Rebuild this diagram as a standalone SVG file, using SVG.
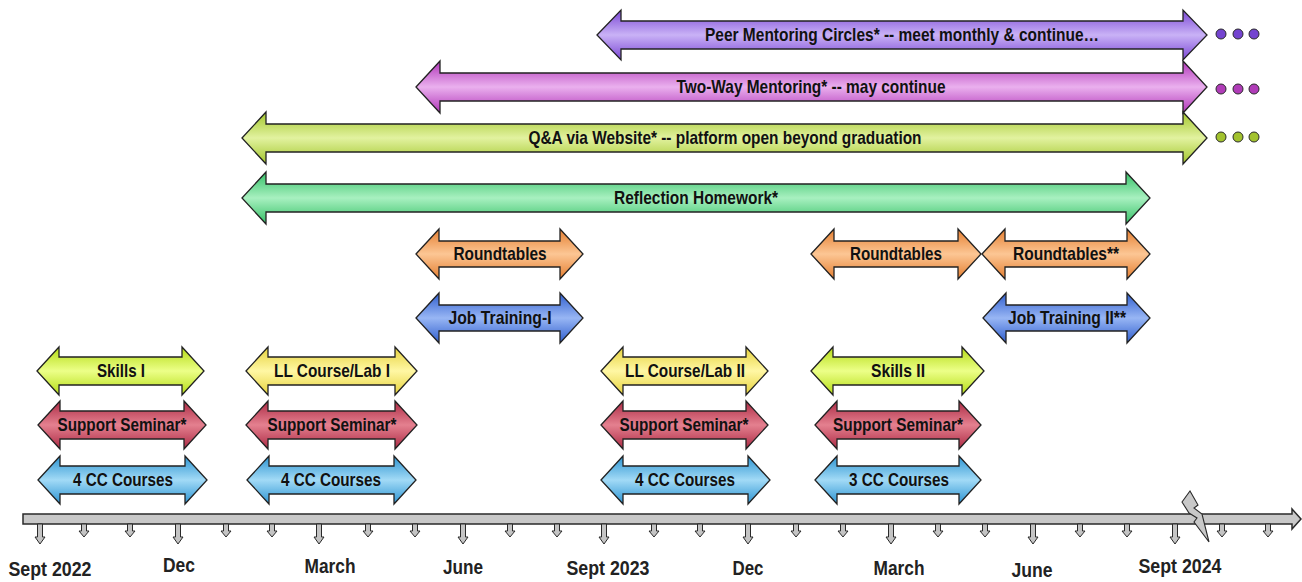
<svg xmlns="http://www.w3.org/2000/svg" width="1302" height="582" viewBox="0 0 1302 582">
<style>
.arr{stroke:#222;stroke-width:1.3;stroke-linejoin:miter}
.lbl{font-family:"Liberation Sans Narrow","Liberation Sans",Arial,sans-serif;font-weight:bold;font-size:19px;text-anchor:middle;fill:#111}
.mon{font-family:"Liberation Sans Narrow","Liberation Sans",Arial,sans-serif;font-weight:bold;font-size:21px;text-anchor:middle;fill:#222}
.tick{fill:#c4c4c4;stroke:#2a2a2a;stroke-width:1}
.dot{stroke:#2a2a2a;stroke-width:1}
</style>
<defs>
<linearGradient id="gLime" x1="0" y1="0" x2="0" y2="1"><stop offset="0" stop-color="#b4dc14"/><stop offset="0.5" stop-color="#ecff88"/><stop offset="1" stop-color="#b4dc14"/></linearGradient>
<linearGradient id="gYel" x1="0" y1="0" x2="0" y2="1"><stop offset="0" stop-color="#e6d23c"/><stop offset="0.5" stop-color="#fff7a4"/><stop offset="1" stop-color="#e6d23c"/></linearGradient>
<linearGradient id="gRed" x1="0" y1="0" x2="0" y2="1"><stop offset="0" stop-color="#ac2a44"/><stop offset="0.5" stop-color="#e4808f"/><stop offset="1" stop-color="#ac2a44"/></linearGradient>
<linearGradient id="gSky" x1="0" y1="0" x2="0" y2="1"><stop offset="0" stop-color="#2c94d2"/><stop offset="0.5" stop-color="#a2daf6"/><stop offset="1" stop-color="#2c94d2"/></linearGradient>
<linearGradient id="gOr" x1="0" y1="0" x2="0" y2="1"><stop offset="0" stop-color="#e47e30"/><stop offset="0.5" stop-color="#fcc694"/><stop offset="1" stop-color="#e47e30"/></linearGradient>
<linearGradient id="gBlue" x1="0" y1="0" x2="0" y2="1"><stop offset="0" stop-color="#2f5ece"/><stop offset="0.5" stop-color="#98b6f4"/><stop offset="1" stop-color="#2f5ece"/></linearGradient>
<linearGradient id="gGreen" x1="0" y1="0" x2="0" y2="1"><stop offset="0" stop-color="#34c066"/><stop offset="0.5" stop-color="#a8f0c0"/><stop offset="1" stop-color="#34c066"/></linearGradient>
<linearGradient id="gOlive" x1="0" y1="0" x2="0" y2="1"><stop offset="0" stop-color="#a2c62a"/><stop offset="0.5" stop-color="#e2f2a0"/><stop offset="1" stop-color="#a2c62a"/></linearGradient>
<linearGradient id="gMag" x1="0" y1="0" x2="0" y2="1"><stop offset="0" stop-color="#b034b8"/><stop offset="0.5" stop-color="#eab0ee"/><stop offset="1" stop-color="#b034b8"/></linearGradient>
<linearGradient id="gPur" x1="0" y1="0" x2="0" y2="1"><stop offset="0" stop-color="#7a46d4"/><stop offset="0.5" stop-color="#c9b2f6"/><stop offset="1" stop-color="#7a46d4"/></linearGradient>
<path id="tS" class="tick" d="M-2.5,524 L2.5,524 L2.5,531 L5,531 L0,537 L-5,531 L-2.5,531 Z"/>
<path id="tL" class="tick" d="M-2.5,524 L2.5,524 L2.5,537 L5,537 L0,544 L-5,537 L-2.5,537 Z"/>
</defs>
<rect width="1302" height="582" fill="#fff"/>

<g id="timeline">
<path d="M23,514 L1292,514 L1292,509 L1301,519 L1292,529 L1292,524 L23,524 Z" fill="#c8c8c8" stroke="#2a2a2a" stroke-width="1.5"/>
<use href="#tL" x="40"/><use href="#tS" x="84"/><use href="#tS" x="130"/>
<use href="#tL" x="178"/><use href="#tS" x="226"/><use href="#tS" x="272"/>
<use href="#tL" x="319"/><use href="#tS" x="368"/><use href="#tS" x="415"/>
<use href="#tL" x="463"/><use href="#tS" x="510"/><use href="#tS" x="557"/>
<use href="#tL" x="604"/><use href="#tS" x="654"/><use href="#tS" x="700"/>
<use href="#tL" x="748"/><use href="#tS" x="796"/><use href="#tS" x="843"/>
<use href="#tL" x="891"/><use href="#tS" x="938"/><use href="#tS" x="985"/>
<use href="#tL" x="1033"/><use href="#tS" x="1080"/><use href="#tS" x="1127"/>
<use href="#tL" x="1175"/><use href="#tS" x="1222"/><use href="#tS" x="1268"/>
<path d="M1182,502 L1190,491 L1198,505 L1194,508 L1202,514 L1209,542 L1194,522 L1197,518 L1189,513 Z" fill="#c8c8c8" stroke="#2a2a2a" stroke-width="1.1"/>
<text class="mon" x="50" y="576" textLength="83" lengthAdjust="spacingAndGlyphs">Sept 2022</text>
<text class="mon" x="179" y="572" textLength="32" lengthAdjust="spacingAndGlyphs">Dec</text>
<text class="mon" x="330" y="573" textLength="51" lengthAdjust="spacingAndGlyphs">March</text>
<text class="mon" x="463" y="574" textLength="40" lengthAdjust="spacingAndGlyphs">June</text>
<text class="mon" x="608" y="575" textLength="83" lengthAdjust="spacingAndGlyphs">Sept 2023</text>
<text class="mon" x="748" y="575" textLength="31" lengthAdjust="spacingAndGlyphs">Dec</text>
<text class="mon" x="899" y="575" textLength="51" lengthAdjust="spacingAndGlyphs">March</text>
<text class="mon" x="1032" y="577" textLength="41" lengthAdjust="spacingAndGlyphs">June</text>
<text class="mon" x="1180" y="573" textLength="83" lengthAdjust="spacingAndGlyphs">Sept 2024</text>
</g>

<g id="skills1"><path class="arr" fill="url(#gLime)" d="M37,371 L59,347 L59,357 L182,357 L182,347 L204,371 L182,395 L182,385 L59,385 L59,395 Z"/><text class="lbl" x="121" y="377" textLength="48" lengthAdjust="spacingAndGlyphs">Skills I</text></g>
<g id="seminar1"><path class="arr" fill="url(#gRed)" d="M38,425 L60,401 L60,411 L184,411 L184,401 L206,425 L184,449 L184,439 L60,439 L60,449 Z"/><text class="lbl" x="122" y="431" textLength="129" lengthAdjust="spacingAndGlyphs">Support Seminar*</text></g>
<g id="cc1"><path class="arr" fill="url(#gSky)" d="M38,480 L60,456 L60,466 L185,466 L185,456 L207,480 L185,504 L185,494 L60,494 L60,504 Z"/><text class="lbl" x="123" y="486" textLength="100" lengthAdjust="spacingAndGlyphs">4 CC Courses</text></g>

<g id="ll1"><path class="arr" fill="url(#gYel)" d="M246,371 L268,347 L268,357 L395,357 L395,347 L417,371 L395,395 L395,385 L268,385 L268,395 Z"/><text class="lbl" x="332" y="377" textLength="116" lengthAdjust="spacingAndGlyphs">LL Course/Lab I</text></g>
<g id="seminar2"><path class="arr" fill="url(#gRed)" d="M246,425 L268,401 L268,411 L395,411 L395,401 L417,425 L395,449 L395,439 L268,439 L268,449 Z"/><text class="lbl" x="332" y="431" textLength="129" lengthAdjust="spacingAndGlyphs">Support Seminar*</text></g>
<g id="cc2"><path class="arr" fill="url(#gSky)" d="M247,480 L269,456 L269,466 L394,466 L394,456 L416,480 L394,504 L394,494 L269,494 L269,504 Z"/><text class="lbl" x="331" y="486" textLength="100" lengthAdjust="spacingAndGlyphs">4 CC Courses</text></g>

<g id="round1"><path class="arr" fill="url(#gOr)" d="M416,254 L439,229 L439,241 L560,241 L560,229 L583,254 L560,279 L560,267 L439,267 L439,279 Z"/><text class="lbl" x="500" y="260" textLength="93" lengthAdjust="spacingAndGlyphs">Roundtables</text></g>
<g id="job1"><path class="arr" fill="url(#gBlue)" d="M416,318 L439,293 L439,305 L560,305 L560,293 L583,318 L560,343 L560,331 L439,331 L439,343 Z"/><text class="lbl" x="500" y="324" textLength="103" lengthAdjust="spacingAndGlyphs">Job Training-I</text></g>

<g id="ll2"><path class="arr" fill="url(#gYel)" d="M601,371 L623,347 L623,357 L746,357 L746,347 L768,371 L746,395 L746,385 L623,385 L623,395 Z"/><text class="lbl" x="685" y="377" textLength="120" lengthAdjust="spacingAndGlyphs">LL Course/Lab II</text></g>
<g id="seminar3"><path class="arr" fill="url(#gRed)" d="M601,425 L623,401 L623,411 L746,411 L746,401 L768,425 L746,449 L746,439 L623,439 L623,449 Z"/><text class="lbl" x="684" y="431" textLength="129" lengthAdjust="spacingAndGlyphs">Support Seminar*</text></g>
<g id="cc3"><path class="arr" fill="url(#gSky)" d="M601,480 L623,456 L623,466 L748,466 L748,456 L770,480 L748,504 L748,494 L623,494 L623,504 Z"/><text class="lbl" x="685" y="486" textLength="100" lengthAdjust="spacingAndGlyphs">4 CC Courses</text></g>

<g id="round2"><path class="arr" fill="url(#gOr)" d="M811,254 L834,229 L834,241 L958,241 L958,229 L981,254 L958,279 L958,267 L834,267 L834,279 Z"/><text class="lbl" x="896" y="260" textLength="92" lengthAdjust="spacingAndGlyphs">Roundtables</text></g>
<g id="skills2"><path class="arr" fill="url(#gLime)" d="M811,371 L833,347 L833,357 L962,357 L962,347 L984,371 L962,395 L962,385 L833,385 L833,395 Z"/><text class="lbl" x="898" y="377" textLength="54" lengthAdjust="spacingAndGlyphs">Skills II</text></g>
<g id="seminar4"><path class="arr" fill="url(#gRed)" d="M815,425 L837,401 L837,411 L959,411 L959,401 L981,425 L959,449 L959,439 L837,439 L837,449 Z"/><text class="lbl" x="898" y="431" textLength="130" lengthAdjust="spacingAndGlyphs">Support Seminar*</text></g>
<g id="cc4"><path class="arr" fill="url(#gSky)" d="M815,480 L837,456 L837,466 L959,466 L959,456 L981,480 L959,504 L959,494 L837,494 L837,504 Z"/><text class="lbl" x="899" y="486" textLength="100" lengthAdjust="spacingAndGlyphs">3 CC Courses</text></g>

<g id="round3"><path class="arr" fill="url(#gOr)" d="M982,254 L1005,229 L1005,241 L1127,241 L1127,229 L1150,254 L1127,279 L1127,267 L1005,267 L1005,279 Z"/><text class="lbl" x="1066" y="260" textLength="106" lengthAdjust="spacingAndGlyphs">Roundtables**</text></g>
<g id="job2"><path class="arr" fill="url(#gBlue)" d="M983,318 L1006,293 L1006,305 L1127,305 L1127,293 L1150,318 L1127,343 L1127,331 L1006,331 L1006,343 Z"/><text class="lbl" x="1067" y="324" textLength="118" lengthAdjust="spacingAndGlyphs">Job Training II**</text></g>

<g id="reflection"><path class="arr" fill="url(#gGreen)" d="M242,198 L266,172 L266,184 L1126,184 L1126,172 L1150,198 L1126,224 L1126,212 L266,212 L266,224 Z"/><text class="lbl" x="696" y="204" textLength="164" lengthAdjust="spacingAndGlyphs">Reflection Homework*</text></g>
<g id="qa"><path class="arr" fill="url(#gOlive)" d="M242,138 L266,112 L266,124 L1183,124 L1183,112 L1207,138 L1183,164 L1183,152 L266,152 L266,164 Z"/><text class="lbl" x="725" y="144" textLength="393" lengthAdjust="spacingAndGlyphs">Q&amp;A via Website* -- platform open beyond graduation</text>
<circle class="dot" cx="1221" cy="137" r="5" fill="#a2c22e"/><circle class="dot" cx="1238" cy="137" r="5" fill="#a2c22e"/><circle class="dot" cx="1254" cy="137" r="5" fill="#a2c22e"/></g>
<g id="twoway"><path class="arr" fill="url(#gMag)" d="M416,87 L440,61 L440,73 L1183,73 L1183,61 L1207,87 L1183,113 L1183,101 L440,101 L440,113 Z"/><text class="lbl" x="811" y="93" textLength="269" lengthAdjust="spacingAndGlyphs">Two-Way Mentoring* -- may continue</text>
<circle class="dot" cx="1221" cy="89" r="5" fill="#b03cb8"/><circle class="dot" cx="1238" cy="89" r="5" fill="#b03cb8"/><circle class="dot" cx="1254" cy="89" r="5" fill="#b03cb8"/></g>
<g id="peer"><path class="arr" fill="url(#gPur)" d="M597,35 L621,10 L621,21 L1183,21 L1183,10 L1207,35 L1183,60 L1183,49 L621,49 L621,60 Z"/><text class="lbl" x="902" y="41" textLength="394" lengthAdjust="spacingAndGlyphs">Peer Mentoring Circles* -- meet monthly &amp; continue…</text>
<circle class="dot" cx="1221" cy="34" r="5" fill="#7444d0"/><circle class="dot" cx="1238" cy="34" r="5" fill="#7444d0"/><circle class="dot" cx="1254" cy="34" r="5" fill="#7444d0"/></g>
</svg>
